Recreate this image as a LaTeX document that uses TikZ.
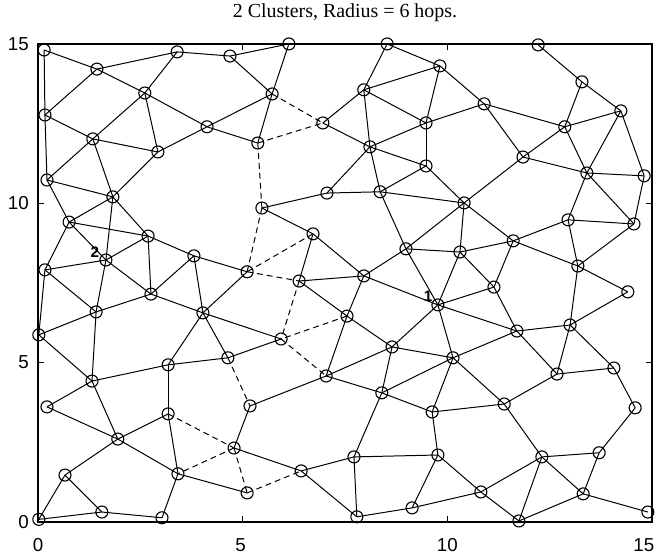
\documentclass[tikz,border=0pt]{standalone}
\usepackage{fontspec}
\setmainfont{Liberation Serif}
\setsansfont{Liberation Sans}
\usepackage{tikz}
\usetikzlibrary{positioning}
\tikzset{
  mote/.style={draw, circle, line width=0.95pt, minimum size=0.36cm, inner sep=0pt},
  link/.style={line width=0.85pt},                                  % intra-cluster hop
  blink/.style={line width=0.85pt, dash pattern=on 5pt off 3.5pt},  % hop across cluster border
  frame/.style={line width=1.5pt},
  tickmark/.style={line width=0.9pt},
  ticklbl/.style={font=\sffamily\fontsize{16}{18}\selectfont, inner sep=0pt},
  headlbl/.style={font=\sffamily\bfseries\fontsize{13}{14}\selectfont, inner sep=0pt},
  plottitle/.style={font=\fontsize{17}{19}\selectfont, inner sep=0pt},
}

\begin{document}
\begin{tikzpicture}[x=1.228cm, y=0.956cm]
  \def\tx{0.19}\def\ty{0.147}
  \useasboundingbox (-0.928,-1.067) rectangle (15.148,16.379);

  % sensor motes
  \foreach \i/\x/\y in {1/0.15/14.81, 2/1.44/14.21, 3/3.40/14.75, 4/4.69/14.62, 5/6.13/15.00,
      6/8.53/15.00, 7/9.82/14.31, 8/12.22/14.97, 9/13.29/13.81, 10/14.24/12.90, 11/2.61/13.46,
      12/5.72/13.43, 13/7.96/13.56, 14/10.90/13.12, 15/0.17/12.77, 16/4.13/12.40, 17/6.96/12.52,
      18/9.48/12.52, 19/12.87/12.40, 20/1.34/12.02, 21/5.37/11.89, 22/8.11/11.77, 23/2.93/11.61,
      24/11.85/11.45, 25/9.48/11.17, 26/13.41/10.95, 27/14.81/10.86, 28/0.22/10.73, 29/1.83/10.20,
      30/7.06/10.32, 31/8.36/10.36, 32/5.47/9.85, 33/10.41/10.01, 34/0.76/9.41, 35/12.95/9.48,
      36/14.56/9.35, 37/6.72/9.04, 38/2.69/8.97, 39/8.99/8.57, 40/11.61/8.82, 41/10.31/8.47,
      42/3.81/8.35, 43/1.66/8.22, 44/0.17/7.91, 45/13.19/8.03, 46/5.11/7.85, 47/7.96/7.72,
      48/6.38/7.56, 49/11.14/7.37, 50/14.41/7.22, 51/2.76/7.15, 52/9.77/6.81, 53/1.42/6.59,
      54/4.03/6.56, 55/7.55/6.46, 56/13.00/6.18, 57/11.70/5.99, 58/0.02/5.87, 59/5.94/5.74,
      60/8.65/5.49, 61/10.14/5.15, 62/4.64/5.15, 63/3.18/4.93, 64/14.07/4.83, 65/12.68/4.64,
      66/7.04/4.58, 67/1.32/4.42, 68/8.40/4.05, 69/11.39/3.70, 70/5.18/3.64, 71/0.22/3.61,
      72/14.59/3.58, 73/9.63/3.45, 74/3.18/3.39, 75/1.95/2.60, 76/4.79/2.32, 77/13.71/2.17,
      78/9.77/2.10, 79/7.72/2.04, 80/12.31/2.04, 81/6.43/1.60, 82/0.66/1.47, 83/3.42/1.51,
      84/10.82/0.94, 85/13.32/0.88, 86/5.11/0.91, 87/1.56/0.31, 88/9.14/0.44, 89/14.90/0.31,
      90/0.02/0.08, 91/3.03/0.13, 92/7.79/0.16, 93/11.75/0.03}
    \node[mote] (n\i) at (\x,\y) {};

  % one-hop links
  \foreach \a/\b in {1/2, 2/3, 3/4, 3/11, 2/11, 11/16, 16/12, 16/21, 15/2, 15/20, 11/20, 11/23,
      20/23, 23/16, 20/28, 20/29, 28/29, 23/29, 1/15, 15/28, 4/5, 4/12, 5/12, 12/21, 17/13, 13/6,
      6/7, 13/7, 13/18, 13/22, 7/18, 18/14, 17/22, 22/18, 22/25, 18/25, 22/30, 22/31, 25/31, 25/33,
      30/31, 32/30, 31/33, 7/14, 14/19, 14/24, 8/9, 9/10, 9/19, 19/10, 19/24, 19/26, 10/26, 10/27,
      26/27, 24/26, 24/33, 26/35, 26/36, 27/36, 28/34, 29/34, 29/43, 29/38, 34/38, 34/43, 34/44,
      44/43, 43/38, 38/42, 38/51, 43/51, 43/53, 44/53, 44/58, 51/42, 51/53, 51/54, 42/46, 42/54,
      53/58, 53/67, 54/59, 54/62, 54/63, 58/67, 62/59, 32/37, 37/47, 37/48, 46/54, 48/47, 48/55,
      47/39, 47/52, 47/55, 39/52, 39/33, 39/41, 31/39, 55/60, 55/66, 52/60, 52/49, 52/61, 60/61,
      33/41, 33/40, 35/36, 35/40, 35/45, 36/45, 40/41, 40/45, 40/49, 41/49, 41/52, 45/50, 45/56,
      49/57, 52/57, 56/50, 56/57, 56/65, 56/64, 57/65, 57/61, 67/63, 67/71, 67/75, 63/62, 63/74,
      71/75, 74/75, 74/83, 75/83, 75/82, 76/81, 83/86, 83/91, 82/87, 82/90, 90/87, 87/91, 66/70,
      70/76, 66/60, 66/68, 60/68, 68/61, 68/73, 68/79, 61/73, 61/69, 81/79, 81/92, 79/78, 79/92,
      92/88, 88/78, 88/84, 78/73, 78/84, 73/69, 65/69, 65/64, 64/72, 69/80, 72/77, 77/80, 77/85,
      80/85, 80/84, 80/93, 84/93, 85/93, 85/89}
    \draw[link] (n\a.center) -- (n\b.center);
  \foreach \a/\b in {12/17, 21/17, 21/32, 32/46, 37/46, 46/48, 48/59, 55/59, 59/66, 62/70,
      74/76, 76/83, 76/86, 86/81}
    \draw[blink] (n\a.center) -- (n\b.center);

  % cluster heads
  \node[headlbl] (h1) at (9.53,7.09) {1};
  \node[headlbl] (h2) at (1.39,8.47) {2};

  % axes
  \draw[frame] (0,0) rectangle (15,15);
  \foreach \t in {5,10}{
    \draw[tickmark] (\t,0) -- ++(0,\tx);
    \draw[tickmark] (\t,15) -- ++(0,-\tx);
    \draw[tickmark] (0,\t) -- ++(\ty,0);
    \draw[tickmark] (15,\t) -- ++(-\ty,0);
  }
  \foreach \t/\p in {0/0, 5/4.95, 10/10, 15/14.8}
    \node[ticklbl] (xl\t) at (\p,-0.74) {\t};
  \foreach \t in {0,5,10,15}
    \node[ticklbl, anchor=east] (yl\t) at (-0.22,\t) {\t};

  \node[plottitle] (title) at (7.5,15.97) {2 Clusters, Radius = 6 hops.};
\end{tikzpicture}
\end{document}
